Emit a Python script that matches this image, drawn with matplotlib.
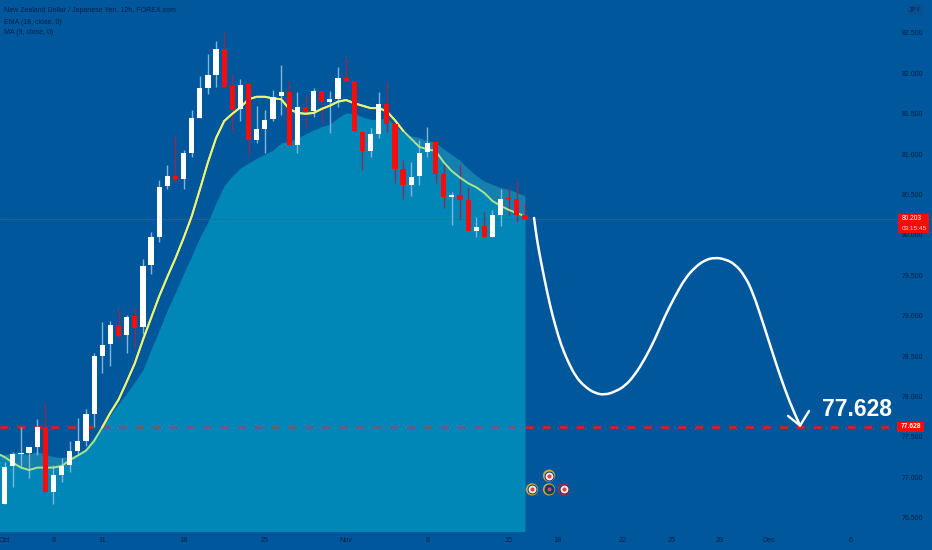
# NZD/JPY 12h candles with projected path
import numpy as np
import matplotlib
matplotlib.use("Agg")
import matplotlib.pyplot as plt
from matplotlib.patches import Rectangle, PathPatch
from matplotlib.path import Path

# Candle data
opens = [76.67, 77.14, 77.29, 77.30, 77.38, 77.62, 76.82, 77.03, 77.15, 77.33, 77.45, 77.78, 78.50,
         78.65, 78.89, 78.76, 79.00, 78.86, 79.63, 79.97, 80.61, 80.73, 80.69, 81.01, 81.45, 81.82,
         81.98, 82.30, 81.84, 81.56, 81.87, 81.17, 81.31, 81.43, 81.72, 81.77, 81.11, 81.58, 81.53,
         81.78, 81.65, 81.68, 81.94, 81.91, 81.27, 81.04, 81.25, 81.62, 81.37, 80.82, 80.62, 80.73,
         81.03, 81.15, 80.75, 80.47, 80.49, 80.43, 80.05, 80.11, 79.97, 80.25, 80.46, 80.45, 80.25]
highs = [77.19, 77.31, 77.62, 77.38, 77.72, 77.92, 77.15, 77.24, 77.45, 77.73, 77.85, 78.54, 78.92,
         78.93, 79.08, 79.01, 79.11, 79.70, 80.04, 80.68, 80.87, 81.22, 81.05, 81.55, 81.97, 82.24,
         82.40, 82.51, 81.98, 81.93, 81.87, 81.60, 81.55, 81.79, 82.10, 81.91, 81.77, 81.73, 81.82,
         81.78, 81.78, 82.08, 82.20, 81.91, 81.27, 81.32, 81.77, 81.89, 81.37, 80.93, 80.90, 81.17,
         81.34, 81.15, 80.90, 80.53, 80.87, 80.59, 80.22, 80.28, 80.31, 80.57, 80.58, 80.68, 80.40]
lows = [76.67, 76.88, 77.12, 76.99, 77.28, 76.82, 76.67, 76.94, 77.07, 77.28, 77.39, 77.62, 78.29,
        78.38, 78.70, 78.54, 78.60, 78.77, 79.52, 79.91, 80.57, 80.64, 80.57, 80.96, 81.45, 81.74,
        81.83, 81.83, 81.27, 81.41, 80.99, 81.14, 81.01, 81.41, 81.48, 81.11, 81.01, 81.32, 81.46,
        81.40, 81.26, 81.58, 81.89, 81.29, 80.80, 80.96, 81.20, 81.27, 80.64, 80.45, 80.48, 80.62,
        80.96, 80.64, 80.33, 80.12, 80.19, 80.05, 79.97, 79.97, 79.97, 80.11, 80.25, 80.16, 80.20]
closes = [77.13, 77.29, 77.30, 77.38, 77.62, 76.82, 77.03, 77.14, 77.33, 77.45, 77.78, 78.50, 78.64,
          78.89, 78.75, 78.98, 78.85, 79.62, 79.97, 80.59, 80.73, 80.68, 81.01, 81.45, 81.82, 81.98,
          82.30, 81.83, 81.55, 81.86, 81.17, 81.31, 81.42, 81.71, 81.77, 81.11, 81.58, 81.52, 81.78,
          81.65, 81.68, 81.94, 81.89, 81.29, 81.04, 81.25, 81.62, 81.37, 80.82, 80.62, 80.72, 81.01,
          81.14, 80.75, 80.47, 80.49, 80.43, 80.05, 80.10, 79.97, 80.25, 80.45, 80.45, 80.25, 80.20]

# Indicators, one value more than candles because they start off the left edge
ema = [77.30, 77.25, 77.18, 77.12, 77.09, 77.12, 77.12, 77.12, 77.14, 77.21, 77.27, 77.33, 77.45, 77.62,
       77.80, 77.96, 78.18, 78.41, 78.70, 78.97, 79.24, 79.48, 79.71, 79.96, 80.23, 80.56, 80.90,
       81.20, 81.41, 81.50, 81.58, 81.68, 81.71, 81.71, 81.69, 81.68, 81.56, 81.51, 81.50, 81.51,
       81.56, 81.60, 81.65, 81.67, 81.63, 81.60, 81.57, 81.57, 81.53, 81.42, 81.29, 81.19, 81.09,
       81.06, 81.04, 80.90, 80.79, 80.71, 80.64, 80.59, 80.52, 80.42, 80.36, 80.31, 80.27, 80.23]
ma = [77.30, 77.27, 77.30, 77.29, 77.28, 77.31, 77.28, 77.25, 77.24, 77.25, 77.28, 77.34, 77.49, 77.62,
      77.77, 77.91, 78.04, 78.18, 78.33, 78.58, 78.82, 79.07, 79.29, 79.52, 79.74, 79.97, 80.16,
      80.40, 80.61, 80.73, 80.83, 80.89, 80.95, 81.00, 81.05, 81.14, 81.16, 81.20, 81.25, 81.30,
      81.34, 81.37, 81.45, 81.51, 81.50, 81.46, 81.43, 81.43, 81.45, 81.36, 81.26, 81.22, 81.20,
      81.16, 81.14, 81.06, 80.99, 80.92, 80.82, 80.73, 80.66, 80.62, 80.58, 80.56, 80.52, 80.48]

# Hand drawn projection (bar number, price)
path_x = [65.11, 65.47, 65.96, 66.46, 67.07, 67.69, 68.43, 69.29, 70.27, 71.38, 72.61, 73.84, 75.07,
          76.30, 77.53, 78.76, 79.99, 81.22, 82.45, 83.68, 84.91, 86.14, 87.37, 88.60, 89.83, 91.06,
          92.05, 93.15, 94.26, 95.36, 96.59, 97.83]
path_y = [80.21, 79.94, 79.67, 79.42, 79.13, 78.89, 78.64, 78.43, 78.24, 78.12, 78.04, 78.02, 78.06,
          78.13, 78.27, 78.47, 78.71, 79.00, 79.24, 79.46, 79.60, 79.69, 79.72, 79.70, 79.64, 79.49,
          79.28, 78.95, 78.60, 78.26, 77.92, 77.64]
head_x = [96.35, 97.83, 98.93]
head_y = [77.76, 77.64, 77.82]

last_price = 80.203
target_price = 77.628

price_ticks = [82.5, 82.0, 81.5, 81.0, 80.5, 80.0, 79.5, 79.0, 78.5, 78.0, 77.5, 77.0, 76.5]
date_ticks = [0, 6, 12, 22, 32, 42, 52, 62, 68, 76, 82, 88, 94, 104]
date_labels = ["Oct", "8", "11", "18", "25", "Nov", "8", "15", "18", "22", "25", "29", "Dec", "6"]

# Economic event badges
event_x = [64.86, 66.95, 66.95, 68.80]
event_y = [76.85, 77.02, 76.85, 76.85]

BG = "#01579b"
DARK_TEXT = "#052048"
FONT = ["Liberation Sans"]

opens, highs, lows, closes = map(np.array, (opens, highs, lows, closes))
ema = np.array(ema)
ma = np.array(ma)
bars = np.arange(len(opens))
ind_bars = np.arange(-1, len(opens))
up = closes >= opens

fig = plt.figure(figsize=(9.32, 5.5), dpi=100, facecolor=BG)
ax = fig.add_axes([0, 0, 1, 1], facecolor=BG)
ax.set_xlim(-0.578, 114.06)
ax.set_ylim(76.10, 82.908)

# target line sits under the area so it looks muted there
ax.plot([-0.6, 110], [target_price, target_price], color="#e3182d", lw=1.9,
        dashes=(3.0, 3.42), zorder=1)

# MA area + slightly darker band between MA and EMA
ax.fill_between(ind_bars, 76.33, ma, color="#0094bf", alpha=0.8, lw=0, zorder=2)
ax.fill_between(ind_bars, ema, ma, where=ema < ma, interpolate=True, color="#1580ae", lw=0, zorder=2.1)
ax.plot([-0.6, 110], [target_price, target_price], color="#e3182d", lw=1.9, alpha=0.3,
        dashes=(3.0, 3.42), zorder=2.15)

ax.axhline(last_price, color="#c0303a", lw=0.7, alpha=0.6, zorder=2.2)

# wicks
ax.vlines(bars[up], lows[up], highs[up], color="#7fb4dc", lw=1.0, zorder=3)
ax.vlines(bars[~up], lows[~up], highs[~up], color="#8c2c55", lw=1.0, zorder=3)

# EMA, greener where it runs over the area
ax.plot(ind_bars, ema, color="#a9e68c", lw=1.4, zorder=3.2)
ax.plot(ind_bars, np.ma.masked_where(ema < ma, ema), color="#f4f36c", lw=1.4, zorder=3.3)

# bodies
body = np.abs(closes - opens)
ax.bar(bars[up], body[up], bottom=np.minimum(opens, closes)[up], width=0.64, color="white", lw=0, zorder=4)
ax.bar(bars[~up], body[~up], bottom=np.minimum(opens, closes)[~up], width=0.64, color="#f70c0c", lw=0, zorder=4)

# projection, smoothed with quadratic curves through the midpoints
pts = np.column_stack((path_x, path_y))
mids = (pts[:-1] + pts[1:]) / 2
verts = [pts[0], mids[0]]
codes = [Path.MOVETO, Path.LINETO]
for p, m in zip(pts[1:-1], mids[1:]):
    verts += [p, m]
    codes += [Path.CURVE3, Path.CURVE3]
verts.append(pts[-1])
codes.append(Path.LINETO)
ax.add_patch(PathPatch(Path(verts, codes), facecolor="none", edgecolor="white", lw=1.8,
                       capstyle="round", zorder=5))
ax.plot(head_x, head_y, color="white", lw=1.7, solid_capstyle="round", zorder=5)

ax.text(100.5, 77.84, "77.628", color="white", fontsize=16.5, fontweight="bold",
        family=FONT, ha="left", va="center", zorder=6)

# event badges
ax.scatter(event_x, event_y, s=78, color=["#c7a45a", "#c7a45a", "#c7a45a", "#8e3550"], lw=0, zorder=5)
ax.scatter(event_x, event_y, s=50, color="#143a66", lw=0, zorder=5.1)
ax.scatter([event_x[0], event_x[1], event_x[3]], [event_y[0], event_y[1], event_y[3]], s=32,
           color="#fbeeee", lw=0, zorder=5.2)
ax.scatter([event_x[0], event_x[1], event_x[3]], [event_y[0], event_y[1], event_y[3]], s=9,
           color="#e8404a", lw=0, zorder=5.3)
ax.scatter([event_x[2]], [event_y[2]], s=8, color="#c9506a", lw=0, zorder=5.3)

# axes labels live inside the picture
ax.yaxis.tick_right()
ax.set_yticks(price_ticks)
ax.set_yticklabels([f"{p:.3f}" for p in price_ticks], family=FONT, fontsize=5.0, color=DARK_TEXT)
ax.tick_params(axis="y", direction="in", length=0, pad=-21.5)
ax.set_xticks(date_ticks)
ax.set_xticklabels(date_labels, family=FONT, fontsize=5.2, color=DARK_TEXT)
ax.tick_params(axis="x", direction="in", length=0, pad=-9.5)
for side in ax.spines.values():
    side.set_visible(False)

# price tags
ax.add_patch(Rectangle((109.9, 80.03), 3.8, 0.23, color="#f70c0c", lw=0, zorder=6))
ax.text(110.3, 80.203, "80.203", color="white", fontsize=4.8, family=FONT, va="center", zorder=7)
ax.text(110.3, 80.085, "03:15:45", color="#ffd5d5", fontsize=4.6, family=FONT, va="center", zorder=7)
ax.add_patch(Rectangle((109.8, 77.56), 3.3, 0.13, color="#f70c0c", lw=0, zorder=6))
ax.text(111.45, target_price, "77.628", color="white", fontsize=4.8, fontweight="bold", family=FONT,
        ha="center", va="center", zorder=7)

# currency box top right
ax.text(915, 550 - 10, "JPY", transform=None, color=DARK_TEXT, fontsize=4.8, family=FONT,
        ha="center", va="center", alpha=0.8,
        bbox=dict(facecolor="#0a5090", edgecolor="none", pad=1.2))

# legend text
ax.text(4, 539, "New Zealand Dollar / Japanese Yen, 12h, FOREX.com", transform=None, color=DARK_TEXT,
        fontsize=5.0, family=FONT, va="center")
ax.text(4, 528, "EMA (18, close, 0)", transform=None, color=DARK_TEXT, fontsize=5.0,
        family=FONT, va="center")
ax.text(4, 517, "MA (9, close, 0)", transform=None, color=DARK_TEXT, fontsize=5.0,
        family=FONT, va="center")

fig.savefig("out.png", dpi=100, facecolor=BG)
